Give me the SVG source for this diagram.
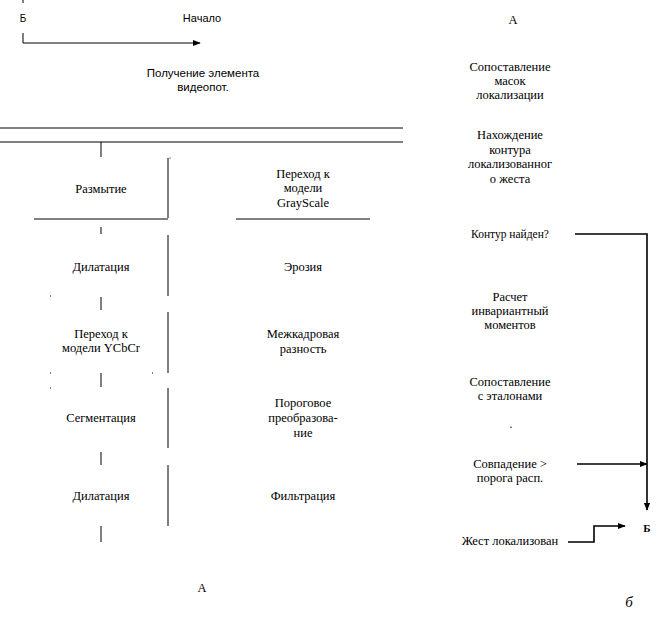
<svg xmlns="http://www.w3.org/2000/svg" width="666" height="632" viewBox="0 0 666 632">
<style>
text{font-family:"Liberation Serif","Times New Roman",serif;font-size:12.5px;fill:#000;text-anchor:middle}
.s{font-family:"Liberation Sans",Arial,sans-serif;font-size:11.5px}
.n{font-size:11.5px}
line,polyline{stroke:#000;stroke-width:1;fill:none}
.th{stroke-width:1.6}
.dot{fill:#000}
</style>
<defs>
<marker id="ah" viewBox="0 0 10 10" refX="9" refY="5" markerWidth="8" markerHeight="8" markerUnits="userSpaceOnUse" orient="auto">
<path d="M0,1 L10,5 L0,9 Z" fill="#000"/>
</marker>
</defs>
<rect width="666" height="632" fill="#fff"/>
<g id="connectors">
<line x1="23" y1="0" x2="23" y2="3"/>
<polyline points="23,33 23,43 200,43" marker-end="url(#ah)"/>
<line x1="0" y1="128" x2="403" y2="128"/>
<line x1="0" y1="142" x2="403" y2="142"/>
<line x1="101" y1="142" x2="101" y2="157"/>
<line x1="168" y1="158" x2="168" y2="218"/>
<line x1="34" y1="219" x2="168" y2="219"/>
<line x1="236" y1="219" x2="370" y2="219"/>
<line x1="101" y1="227" x2="101" y2="234"/>
<line x1="168" y1="235" x2="168" y2="296"/>
<line x1="101" y1="297" x2="101" y2="310"/>
<line x1="168" y1="312" x2="168" y2="373"/>
<line x1="101" y1="373" x2="101" y2="387"/>
<line x1="168" y1="388" x2="168" y2="448"/>
<line x1="101" y1="452" x2="101" y2="465"/>
<line x1="168" y1="465" x2="168" y2="526"/>
<line x1="101" y1="526" x2="101" y2="542"/>
<polyline class="th" points="575,234 647,234 647,510" marker-end="url(#ah)"/>
<line class="th" x1="577" y1="464" x2="647" y2="464" marker-end="url(#ah)"/>
<polyline class="th" points="568,542 594,542 594,526 625,526" marker-end="url(#ah)"/>
<rect class="dot" x="169.5" y="157.5" width="1" height="1"/>
<rect class="dot" x="50" y="295.5" width="1" height="1"/>
<rect class="dot" x="50" y="372.5" width="1" height="1"/>
<rect class="dot" x="152" y="372.5" width="1" height="1"/>
<rect class="dot" x="50" y="387.5" width="1" height="1"/>
<rect class="dot" x="510.5" y="426.5" width="1" height="1.5"/>
</g>
<g id="n-b-start"><text x="23" y="22" class="s n" style="font-size:10px">Б</text></g>
<g id="n-start"><text x="202" y="22" class="s" style="font-size:11px">Начало</text></g>
<g id="n-get"><text x="203" y="77" class="s">Получение элемента</text><text x="203" y="91" class="s">видеопот.</text></g>
<g id="n-blur"><text x="101" y="193">Размытие</text></g>
<g id="n-gray"><text x="303" y="178">Переход к</text><text x="303" y="192">модели</text><text x="303" y="207">GrayScale</text></g>
<g id="n-dil1"><text x="101" y="271">Дилатация</text></g>
<g id="n-ero"><text x="303" y="271">Эрозия</text></g>
<g id="n-ycbcr"><text x="101" y="338">Переход к</text><text x="101" y="352">модели YCbCr</text></g>
<g id="n-diff"><text x="303" y="338">Межкадровая</text><text x="303" y="353">разность</text></g>
<g id="n-seg"><text x="101" y="422">Сегментация</text></g>
<g id="n-thr"><text x="303" y="407">Пороговое</text><text x="303" y="422">преобразова-</text><text x="303" y="437">ние</text></g>
<g id="n-dil2"><text x="101" y="500">Дилатация</text></g>
<g id="n-filt"><text x="303" y="500">Фильтрация</text></g>
<g id="n-a1"><text x="202" y="592">А</text></g>
<g id="n-a2"><text x="513" y="24">А</text></g>
<g id="n-masks"><text x="510" y="71">Сопоставление</text><text x="510" y="85">масок</text><text x="510" y="99">локализации</text></g>
<g id="n-contour"><text x="510" y="139">Нахождение</text><text x="510" y="154">контура</text><text x="510" y="168">локализованног</text><text x="510" y="183">о жеста</text></g>
<g id="n-found"><text x="510" y="238" class="n">Контур найден?</text></g>
<g id="n-moments"><text x="510" y="301">Расчет</text><text x="510" y="315">инвариантный</text><text x="510" y="329">моментов</text></g>
<g id="n-compare"><text x="510" y="386">Сопоставление</text><text x="510" y="400">с эталонами</text></g>
<g id="n-match"><text x="510" y="468">Совпадение &gt;</text><text x="510" y="482">порога расп.</text></g>
<g id="n-b-end"><text x="647" y="532" style="font-weight:bold;font-size:11px">Б</text></g>
<g id="n-done"><text x="510" y="545">Жест локализован</text></g>
<g id="n-label"><text x="629" y="607" style="font-style:italic;font-size:15px">б</text></g>
</svg>
